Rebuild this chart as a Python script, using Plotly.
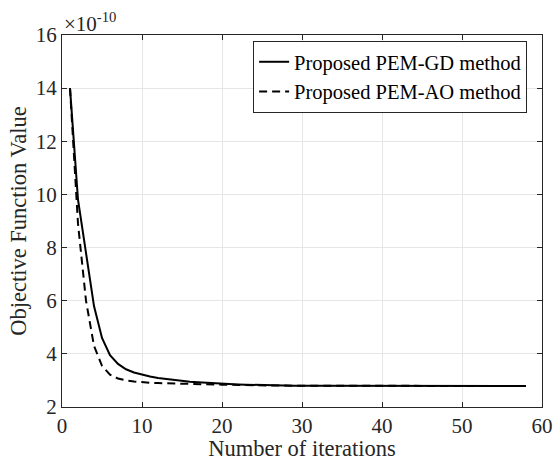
import plotly.graph_objects as go

# Objective function values in units of 1e-10
iterations = list(range(1, 59))
pem_gd = [14.0, 9.8, 7.8, 5.8, 4.6, 3.95, 3.62, 3.42, 3.30, 3.22,
          3.15, 3.09, 3.05, 3.01, 2.98, 2.95, 2.93, 2.91, 2.89, 2.87,
          2.86, 2.85, 2.84, 2.83, 2.82, 2.82, 2.81, 2.81, 2.80, 2.80,
          2.80, 2.80, 2.80, 2.80, 2.80, 2.80, 2.79, 2.79, 2.79, 2.79,
          2.79, 2.79, 2.79, 2.79, 2.79, 2.79, 2.79, 2.79, 2.79, 2.79,
          2.79, 2.79, 2.79, 2.79, 2.79, 2.79, 2.79, 2.79]
pem_ao = [14.0, 8.9, 6.0, 4.3, 3.55, 3.22, 3.07, 3.00, 2.96, 2.93,
          2.91, 2.90, 2.89, 2.88, 2.87, 2.86, 2.86, 2.85, 2.85, 2.84,
          2.84, 2.83, 2.83, 2.82, 2.82, 2.81, 2.81, 2.80, 2.80, 2.80,
          2.80, 2.80, 2.80, 2.79, 2.79, 2.79, 2.79, 2.79, 2.79, 2.79,
          2.79, 2.79, 2.79, 2.79, 2.79, 2.79, 2.79, 2.79, 2.79, 2.79,
          2.79, 2.79, 2.79, 2.79, 2.79, 2.79, 2.79, 2.79]

x_ticks = [0, 10, 20, 30, 40, 50, 60]
y_ticks = [2, 4, 6, 8, 10, 12, 14, 16]

FONT = "Liberation Serif, Times New Roman, serif"
INK = "#262626"

fig = go.Figure()
fig.add_trace(go.Scatter(x=iterations, y=pem_gd, mode="lines",
                         name="Proposed PEM-GD method",
                         line=dict(color="black", width=2)))
fig.add_trace(go.Scatter(x=iterations, y=pem_ao, mode="lines",
                         name="Proposed PEM-AO method",
                         line=dict(color="black", width=2, dash="8px,5px")))

axis_common = dict(showline=True, linecolor=INK, linewidth=1,
                   mirror="ticks", ticks="inside", ticklen=5,
                   tickcolor=INK, showgrid=True,
                   gridcolor="#e6e6e6", gridwidth=1, zeroline=False,
                   tickfont=dict(family=FONT, size=21, color=INK))

fig.update_xaxes(range=[0, 60], tickvals=x_ticks, automargin=False,
                 title=dict(text="Number of iterations",
                            font=dict(family=FONT, size=22.5, color=INK),
                            standoff=3),
                 **axis_common)
fig.update_yaxes(range=[2, 16], tickvals=y_ticks, automargin=True,
                 title=dict(text="Objective Function Value",
                            font=dict(family=FONT, size=22.5, color=INK),
                            standoff=2),
                 **axis_common)

fig.add_annotation(text="×10<sup>-10</sup>", xref="paper", yref="paper",
                   x=0.0, y=1.0, xanchor="left", yanchor="bottom",
                   showarrow=False, yshift=-3,
                   font=dict(family=FONT, size=21, color=INK))

fig.update_layout(
    width=554, height=461,
    margin=dict(l=62, r=12, t=35, b=54),
    paper_bgcolor="white", plot_bgcolor="white",
    showlegend=True,
    legend=dict(x=0.969, y=0.984, xanchor="right", yanchor="top",
                bgcolor="white", bordercolor=INK, borderwidth=1,
                font=dict(family=FONT, size=20.5, color="black"),
                tracegroupgap=0, itemwidth=30),
)

fig.write_html(
    "out.html",
    config={"displayModeBar": False},
    post_script="document.body.style.margin='0';"
                "document.body.style.overflow='hidden';",
)
